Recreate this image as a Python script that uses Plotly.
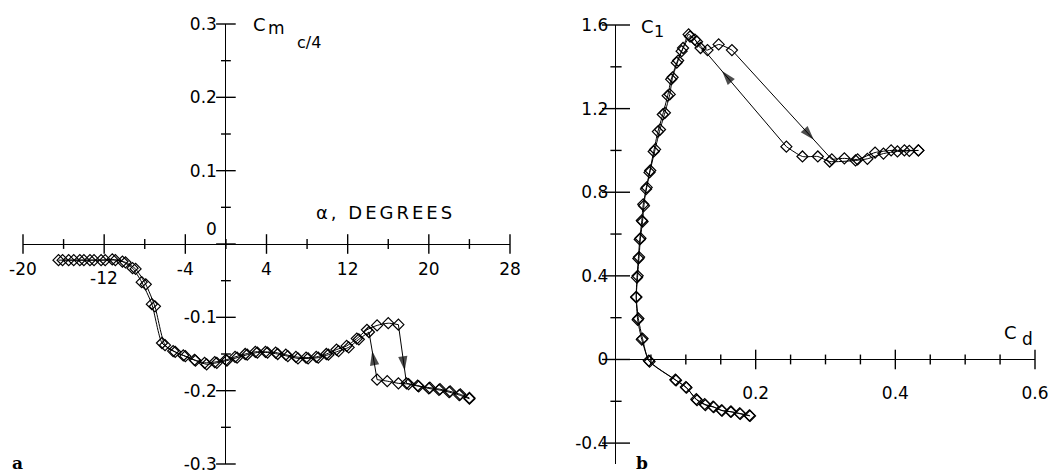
import plotly.graph_objects as go

W, H = 1051, 474

# ---------------- Panel a : Cm(c/4) vs alpha ----------------
alpha_up = [-16.5, -15.5, -14.4, -13.4, -12.3, -11.2, -10.2, -9.2, -8.3, -7.3, -6.3,
            -5.2, -4.2, -3.1, -2.1, -1.1, 0.0, 0.9, 1.9, 2.9, 3.9, 4.9, 5.9, 6.9,
            7.9, 8.9, 9.9, 10.9, 11.9, 12.9, 13.9, 14.9, 16.0, 17.0,
            17.8, 18.9, 20.0, 21.0, 22.0, 23.0, 24.0]
cm_up = [-0.022, -0.022, -0.022, -0.022, -0.022, -0.021, -0.024, -0.033, -0.052, -0.082, -0.135,
         -0.146, -0.152, -0.158, -0.162, -0.161, -0.158, -0.154, -0.150, -0.147, -0.147, -0.148,
         -0.151, -0.154, -0.155, -0.154, -0.150, -0.144, -0.139, -0.129, -0.117, -0.111, -0.108,
         -0.110,
         -0.190, -0.193, -0.197, -0.199, -0.202, -0.206, -0.211]
alpha_dn = [24.0, 23.1, 22.1, 21.1, 20.1, 19.0, 18.0, 17.0, 15.9, 14.9,
            14.1, 13.1, 12.1, 11.1, 10.1, 9.1, 8.1, 7.1, 6.1, 5.1, 4.1, 3.1, 2.1, 1.1,
            0.1, -0.9, -1.9, -3.0, -4.0, -5.0, -6.0, -7.0, -7.9, -8.9, -9.9, -10.9,
            -11.9, -13.0, -14.0, -15.0, -16.1]
cm_dn = [-0.210, -0.205, -0.201, -0.198, -0.196, -0.194, -0.191, -0.190, -0.187, -0.185,
         -0.120, -0.130, -0.141, -0.146, -0.151, -0.155, -0.156, -0.156, -0.153, -0.150,
         -0.148, -0.148, -0.151, -0.155, -0.159, -0.162, -0.164, -0.159, -0.153, -0.147,
         -0.138, -0.085, -0.055, -0.034, -0.025, -0.022, -0.022, -0.022, -0.022, -0.022, -0.022]
A_ATTACHED_UP = 34    # points before the stall jump (increasing alpha)
A_SEPARATED_DN = 10   # points before the reattachment jump (decreasing alpha)

a_x_major = [-20, -12, -4, 4, 12, 20, 28]
a_x_minor = [-16, -8, 0, 8, 16, 24]
a_y_major = [-0.3, -0.2, -0.1, 0.0, 0.1, 0.2, 0.3]
a_y_minor = [-0.25, -0.15, -0.05, 0.05, 0.15, 0.25]
a_x_labels = ["-20", "-12", "-4", "4", "12", "20", "28"]
a_y_labels = ["-0.3", "-0.2", "-0.1", "0", "0.1", "0.2", "0.3"]

# ---------------- Panel b : Cl vs Cd ----------------
cd_up = [0.191, 0.177, 0.164, 0.151, 0.139, 0.127, 0.115, 0.100, 0.085, 0.047,
         0.038, 0.032, 0.029, 0.030, 0.032, 0.034, 0.037, 0.039, 0.044, 0.049,
         0.056, 0.063, 0.070, 0.077, 0.081, 0.089, 0.096, 0.104, 0.113, 0.121,
         0.131, 0.147, 0.166,
         0.309, 0.327, 0.346, 0.371, 0.394, 0.413, 0.433]
cl_up = [-0.268, -0.258, -0.250, -0.243, -0.226, -0.214, -0.190, -0.132, -0.097, -0.005,
         0.100, 0.196, 0.297, 0.392, 0.483, 0.574, 0.665, 0.742, 0.823, 0.904,
         1.005, 1.100, 1.180, 1.268, 1.350, 1.430, 1.490, 1.555, 1.530, 1.490,
         1.480, 1.507, 1.480,
         0.957, 0.962, 0.957, 0.990, 1.000, 1.000, 1.000]
cd_dn = [0.433, 0.420, 0.403, 0.383, 0.360, 0.343, 0.306, 0.289, 0.267, 0.244,
         0.116, 0.106, 0.094, 0.087, 0.079, 0.074, 0.067, 0.060, 0.054, 0.048,
         0.043, 0.040, 0.038, 0.035, 0.033, 0.031, 0.029, 0.031, 0.037, 0.048,
         0.086, 0.101, 0.116, 0.128, 0.140, 0.152, 0.165, 0.178, 0.192]
cl_dn = [1.000, 0.998, 0.995, 0.985, 0.960, 0.952, 0.947, 0.971, 0.971, 1.018,
         1.520, 1.545, 1.475, 1.420, 1.340, 1.262, 1.172, 1.090, 0.995, 0.895,
         0.815, 0.735, 0.660, 0.580, 0.490, 0.400, 0.300, 0.190, 0.095, -0.010,
         -0.100, -0.135, -0.195, -0.218, -0.228, -0.245, -0.250, -0.260, -0.270]
B_ATTACHED_UP = 33
B_SEPARATED_DN = 10

b_x_major = [0.2, 0.4, 0.6]
b_x_minor = [0.05, 0.1, 0.15, 0.25, 0.3, 0.35, 0.45, 0.5, 0.55]
b_y_major = [-0.4, 0.0, 0.4, 0.8, 1.2, 1.6]
b_y_minor = [-0.2, 0.2, 0.6, 1.0, 1.4]
b_x_labels = ["0.2", "0.4", "0.6"]
b_y_labels = ["-0.4", "0", "0.4", "0.8", "1.2", "1.6"]


# ---------------- layout geometry (window pixels -> paper) ----------------
def px(p):
    return p / W


def py(p):
    return 1 - p / H


A_XR, A_YR = [-20, 28], [-0.3, 0.3]
B_XR, B_YR = [0, 0.6], [-0.5, 1.6]
a_xdom = [px(23), px(510)]
a_ydom = [py(464), py(24)]
b_xdom = [px(616), px(1035)]
b_ydom = [py(464), py(25)]


def frac(v, rng, dom):
    return dom[0] + (v - rng[0]) / (rng[1] - rng[0]) * (dom[1] - dom[0])


FONT = "DejaVu Sans"
BLACK = "black"
fig = go.Figure()


def add_lines(xs, ys, xa, ya, shape):
    fig.add_trace(go.Scatter(x=xs, y=ys, mode="lines", xaxis=xa, yaxis=ya,
                             line=dict(color=BLACK, width=1, shape=shape, smoothing=0.6),
                             hoverinfo="skip", showlegend=False))


def add_series(x, y, nbreak, xa, ya):
    add_lines(x[:nbreak], y[:nbreak], xa, ya, "spline")
    add_lines(x[nbreak - 1:nbreak + 1], y[nbreak - 1:nbreak + 1], xa, ya, "linear")
    add_lines(x[nbreak:], y[nbreak:], xa, ya, "spline")
    fig.add_trace(go.Scatter(x=x, y=y, mode="markers", xaxis=xa, yaxis=ya,
                             marker=dict(symbol="diamond-open", size=8.5, color=BLACK,
                                         line=dict(width=1.2, color=BLACK)),
                             showlegend=False))


def add_arrow(x, y, nbreak, f0, f1, xa, ya):
    x0, y0, x1, y1 = x[nbreak - 1], y[nbreak - 1], x[nbreak], y[nbreak]
    xs = [x0 + (x1 - x0) * f0, x0 + (x1 - x0) * f1]
    ys = [y0 + (y1 - y0) * f0, y0 + (y1 - y0) * f1]
    fig.add_trace(go.Scatter(x=xs, y=ys, mode="markers", xaxis=xa, yaxis=ya,
                             marker=dict(symbol=["circle", "arrow"], size=[0, 15],
                                         angleref="previous", color=BLACK,
                                         line=dict(width=0, color=BLACK)),
                             hoverinfo="skip", showlegend=False))


def add_ticks(vals, along_x, size, xa, ya):
    xs = vals if along_x else [0] * len(vals)
    ys = [0] * len(vals) if along_x else vals
    fig.add_trace(go.Scatter(x=xs, y=ys, mode="markers", xaxis=xa, yaxis=ya,
                             cliponaxis=False,
                             marker=dict(symbol="line-ns-open" if along_x else "line-ew-open",
                                         size=size, color=BLACK,
                                         line=dict(width=1.4, color=BLACK)),
                             hoverinfo="skip", showlegend=False))


# panel a
add_ticks(a_x_major, True, 14, "x", "y")
add_ticks(a_x_minor, True, 7, "x", "y")
add_ticks(a_y_major, False, 14, "x", "y")
add_ticks(a_y_minor, False, 7, "x", "y")
add_series(alpha_up, cm_up, A_ATTACHED_UP, "x", "y")
add_series(alpha_dn, cm_dn, A_SEPARATED_DN, "x", "y")
add_arrow(alpha_up, cm_up, A_ATTACHED_UP, 0.45, 0.78, "x", "y")
add_arrow(alpha_dn, cm_dn, A_SEPARATED_DN, 0.25, 0.6, "x", "y")

# panel b
add_ticks(b_x_major, True, 14, "x2", "y2")
add_ticks(b_x_minor, True, 7, "x2", "y2")
add_ticks(b_y_major, False, 20, "x2", "y2")
add_ticks(b_y_minor, False, 8, "x2", "y2")
add_series(cd_up, cl_up, B_ATTACHED_UP, "x2", "y2")
add_series(cd_dn, cl_dn, B_SEPARATED_DN, "x2", "y2")
add_arrow(cd_up, cl_up, B_ATTACHED_UP, 0.6, 0.82, "x2", "y2")
add_arrow(cd_dn, cl_dn, B_SEPARATED_DN, 0.5, 0.72, "x2", "y2")

tickfont = dict(family=FONT, size=17, color=BLACK)
a_xt = [(v, t) for v, t in zip(a_x_major, a_x_labels) if v != -12]
a_yt = [(v, t) for v, t in zip(a_y_major, a_y_labels) if v != 0]

fig.update_layout(
    width=W, height=H, margin=dict(l=0, r=0, t=0, b=0, pad=0, autoexpand=False),
    paper_bgcolor="white", plot_bgcolor="white", showlegend=False,
    xaxis=dict(domain=a_xdom, range=A_XR, anchor="free", automargin=False,
               position=frac(0, A_YR, a_ydom), showgrid=False, showline=False,
               zeroline=True, zerolinecolor=BLACK, zerolinewidth=1.4, ticks="",
               tickvals=[v for v, _ in a_xt], ticktext=[t for _, t in a_xt],
               tickfont=tickfont, ticklabelstandoff=13),
    yaxis=dict(domain=a_ydom, range=A_YR, anchor="free", automargin=False,
               position=frac(0, A_XR, a_xdom), showgrid=False, showline=False,
               zeroline=True, zerolinecolor=BLACK, zerolinewidth=1.4, ticks="",
               tickvals=[v for v, _ in a_yt], ticktext=[t for _, t in a_yt],
               tickfont=tickfont, ticklabelstandoff=9),
    xaxis2=dict(domain=b_xdom, range=B_XR, anchor="free", automargin=False,
                position=frac(0, B_YR, b_ydom), showgrid=False, showline=False,
                zeroline=False, ticks="", tickvals=b_x_major, ticktext=b_x_labels,
                tickfont=tickfont, ticklabelstandoff=22),
    yaxis2=dict(domain=b_ydom, range=B_YR, anchor="x2", showgrid=False, automargin=False,
                showline=True, linecolor=BLACK, linewidth=1.4,
                zeroline=True, zerolinecolor=BLACK, zerolinewidth=1.4, ticks="",
                tickvals=b_y_major, ticktext=b_y_labels,
                tickfont=tickfont, ticklabelstandoff=3),
)


def txt(text, x, y, size, family=FONT, xanchor="center"):
    return dict(x=px(x), y=py(y), xref="paper", yref="paper", text=text,
                showarrow=False, font=dict(family=family, size=size, color=BLACK),
                xanchor=xanchor, yanchor="middle")


ann = [
    dict(x=0, y=0, xref="x", yref="y", text="0", showarrow=False, font=tickfont,
         xanchor="right", yanchor="bottom", xshift=-7, yshift=3),
    dict(x=-12, y=0, xref="x", yref="y", text="-12", showarrow=False, font=tickfont,
         xanchor="center", yanchor="top", yshift=-22),
    txt('<span style="letter-spacing:3px">α, DEGREES</span>', 385, 212, 18),
    txt("C", 259, 24, 18),
    txt("m", 276, 28, 17),
    txt("c/4", 309, 42, 16),
    txt("C", 647, 26, 18),
    txt("1", 659, 32, 16),
    txt("C", 1010, 332, 18),
    txt("d", 1027, 339, 17),
    txt("<b>a</b>", 17, 463, 17, family="DejaVu Serif"),
    txt("<b>b</b>", 642, 463, 17, family="DejaVu Serif"),
]
fig.update_layout(annotations=ann)

fig.write_html("out.html", config={"displayModeBar": False},
               post_script="document.body.style.margin='0';"
                           "document.body.style.overflow='hidden';")
